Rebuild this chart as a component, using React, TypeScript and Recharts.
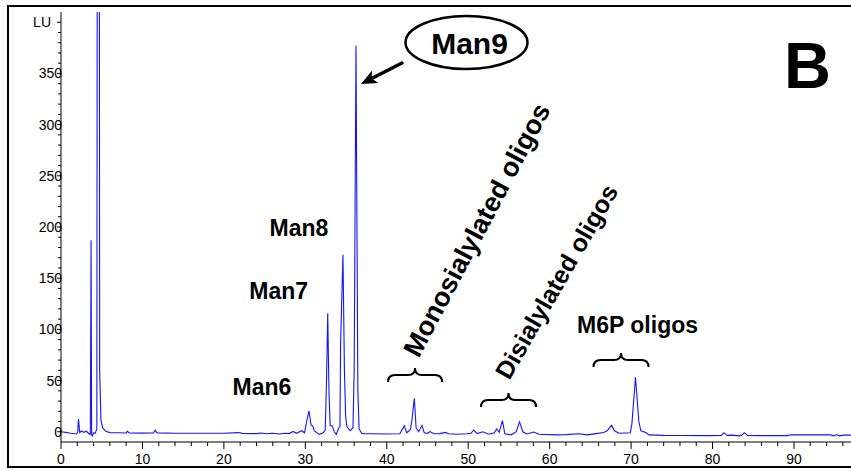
import React from 'react';
import { LineChart, Line, XAxis, YAxis, ReferenceDot } from 'recharts';

// Retention time (min) vs fluorescence (LU)
const solventFront: [number, number][] = [
  [0, 0], [0.6, -0.6], [1.2, -1.4], [1.9, -2.2], [2.05, 0], [2.15, 12.5], [2.3, -1], [2.5, 0.8],
  [2.8, -0.5], [3.1, 0.5], [3.35, -1.2], [3.55, -2.6], [3.6, -2], [3.69, 187], [3.76, -3],
  [3.85, -4], [4.0, -1], [4.2, -1.6], [4.4, 3], [4.58, 1800], [4.75, 60], [4.9, 12], [5.1, 4],
  [5.5, 0.5], [6.0, -0.8], [7.0, -1], [8.0, -1.2], [8.15, 0.6], [8.35, -1.1], [10, -1.3],
  [11.35, -1.2], [11.55, 1.4], [11.8, -1.1], [14, -1.4], [17, -1.5], [20, -1.5],
];

const lateBaseline: [number, number][] = [
  [21.8, -0.8], [22.3, -1.6], [24, -1.8], [24.6, -1.2], [25.2, -2], [26, -1.5], [26.8, -2.2],
  [27.5, -1.4], [28.0, -1.8], [28.5, 0.3], [28.9, -1.5], [29.55, 1], [29.9, -1],
];

const highMannose: [number, number][] = [
  [30.2, 11.5], [30.45, 20.3], [30.7, 6.6], [30.9, 5.7], [31.1, 1], [31.7, -2.5], [32.2, -1],
  [32.45, 2], [32.6, 50], [32.75, 115.7], [32.9, 40], [33.05, 6], [33.3, 5.7], [33.55, 0],
  [33.8, -2.5], [34.1, 3.7], [34.25, 5], [34.33, 86], [34.62, 173], [34.8, 60], [34.95, 15],
  [35.1, 5], [35.5, 1], [35.85, 4], [36.0, 60], [36.22, 377], [36.45, 40], [36.6, 3], [36.9, -1.5],
  [37.2, -2],
];

const sialylated: [number, number][] = [
  [38, -2], [40, -2.2], [41.6, -2], [42.15, 5.7], [42.45, -1], [42.9, 2], [43.1, 12], [43.38, 32.7],
  [43.6, 4], [43.9, 0], [44.33, 6.3], [44.6, -1], [45.0, -1.5], [45.3, 0.2], [45.8, -2], [46.5, -1.8],
  [47.2, -0.6], [47.6, -2], [48.6, -2.5], [49.8, -2], [50.35, -1.5], [50.67, 1.7], [51.1, -1.8],
  [51.8, 0], [52.5, -2.4], [53.2, -1], [53.5, 2.7], [53.8, -0.5], [54.2, 10.9], [54.5, -2],
  [55.3, -3], [55.9, 0], [56.3, 9.6], [56.7, 0], [57.2, -2.2], [58.05, -0.2], [58.7, -2.5], [60.9, -3],
];

const m6pRegion: [number, number][] = [
  [62, -2.8], [63.6, -2], [64.6, -3], [65.7, -1.8], [66.65, -0.8], [67.05, 1], [67.6, 6.3],
  [67.96, 1], [68.5, -1.5], [69.9, -1], [70.1, 8], [70.54, 53.2], [70.95, 10], [71.2, 1],
  [71.8, -0.8], [72.2, -3],
];

const tailRegion: [number, number][] = [
  [74, -3.5], [76, -3.6], [79.35, -3.8], [81.1, -3.6], [81.4, -0.9], [81.8, -3.5], [82.4, -3.3],
  [83.2, -4], [83.6, -3.3], [83.9, -0.9], [84.3, -3.5], [86, -3.8], [89.2, -3.8], [89.6, -2.9],
  [92, -3], [94.5, -3], [94.8, -4], [95.2, -3], [95.6, -4], [96.1, -3.3], [97, -3.3],
];

const xTicks = [0, 2, 4, 6, 8, 10, 12, 14, 16, 18, 20, 22, 24, 26, 28, 30, 32, 34, 36, 38, 40, 42, 44, 46, 48,
  50, 52, 54, 56, 58, 60, 62, 64, 66, 68, 70, 72, 74, 76, 78, 80, 82, 84, 86, 88, 90, 92, 94, 96];
const yTicks = [0, 10, 20, 30, 40, 50, 60, 70, 80, 90, 100, 110, 120, 130, 140, 150, 160, 170, 180, 190, 200,
  210, 220, 230, 240, 250, 260, 270, 280, 290, 300, 310, 320, 330, 340, 350, 360, 370, 380, 390, 400];

const trace = [...solventFront, ...lateBaseline, ...highMannose, ...sialylated, ...m6pRegion, ...tailRegion]
  .map(([t, v]) => ({ t, v }));

const FONT = '"Liberation Sans", Arial, Helvetica, sans-serif';

const XTick = (props: any) => {
  const { x, y, payload } = props;
  const major = payload.value % 10 === 0;
  return (
    <g>
      <line x1={x} x2={x} y1={y} y2={y + (major ? 7 : 4)} stroke="#000" strokeWidth={1} />
      {major && (
        <text x={x} y={y + 22} textAnchor="middle" fontSize={14} fontFamily={FONT} fill="#000">
          {payload.value}
        </text>
      )}
    </g>
  );
};

const YTick = (props: any) => {
  const { x, y, payload } = props;
  const v = payload.value;
  const major = v % 50 === 0;
  return (
    <g>
      <line x1={x - (major ? 4 : 3)} x2={x} y1={y} y2={y} stroke="#000" strokeWidth={1} />
      {major && v === 400 && (
        <text x={x - 10} y={y} dy="0.36em" textAnchor="end" fontSize={14} fontFamily={FONT} fill="#000">LU</text>
      )}
      {major && v !== 400 && (
        <text x={x + 1} y={y} dy="0.36em" textAnchor="end" fontSize={14} fontFamily={FONT} fill="#000">{v}</text>
      )}
    </g>
  );
};

const bracePath = (w: number) => {
  const h = w / 2;
  return `M ${-h} 7 Q ${-h} 0 ${-h + 7} 0 L -7 0 Q 0 0 0 -7 Q 0 0 7 0 L ${h - 7} 0 Q ${h} 0 ${h} 7`;
};

const Brace = (w: number) => (p: any) => (
  <path transform={`translate(${p.cx},${p.cy})`} d={bracePath(w)} fill="none" stroke="#000" strokeWidth={2} />
);

const BoldLabel = (text: string, size: number, anchor: string, rotate = 0) => (p: any) => (
  <text
    x={p.cx}
    y={p.cy}
    textAnchor={anchor as any}
    fontSize={size}
    fontWeight="bold"
    fontFamily={FONT}
    fill="#000"
    transform={rotate ? `rotate(${rotate},${p.cx},${p.cy})` : undefined}
  >
    {text}
  </text>
);

const Man9Callout = (p: any) => {
  const { cx, cy } = p;
  const tailX = cx - 64.5, tailY = cy + 20.5;
  const tipX = cx - 105.5, tipY = cy + 41.5;
  const dx = tipX - tailX, dy = tipY - tailY;
  const len = Math.sqrt(dx * dx + dy * dy);
  const ux = dx / len, uy = dy / len;
  const px = -uy, py = ux;
  const bx = tipX - ux * 16, by = tipY - uy * 16;
  const nx = tipX - ux * 12, ny = tipY - uy * 12;
  return (
    <g>
      <ellipse cx={cx} cy={cy} rx={61} ry={26.5} fill="#fff" stroke="#000" strokeWidth={2.5} />
      <text x={cx + 3} y={cy + 11.5} textAnchor="middle" fontSize={30} fontWeight="bold" fontFamily={FONT} fill="#000">
        Man9
      </text>
      <line x1={tailX} y1={tailY} x2={nx} y2={ny} stroke="#000" strokeWidth={3.5} strokeLinecap="round" />
      <polygon
        points={`${tipX},${tipY} ${bx + px * 7},${by + py * 7} ${nx},${ny} ${bx - px * 7},${by - py * 7}`}
        fill="#000"
      />
    </g>
  );
};

export default function App() {
  return (
    <div style={{ position: 'absolute', left: 0, top: 0, width: 851, height: 471, background: '#fff', overflow: 'hidden' }}>
      <div
        style={{
          position: 'absolute', left: 7, top: 5, width: 880, height: 463, boxSizing: 'border-box',
          borderLeft: '2px solid #000', borderTop: '2px solid #000', borderBottom: '2px solid #000',
        }}
      />
      <div style={{ position: 'absolute', left: 0, top: 0 }}>
        <LineChart width={851} height={471} data={trace} margin={{ top: 12, right: 0, bottom: 0, left: 0 }}>
          <XAxis
            dataKey="t"
            type="number"
            domain={[0, 97]}
            allowDataOverflow
            ticks={xTicks}
            interval={0}
            tickSize={0}
            tickMargin={0}
            tickLine={false}
            tick={<XTick />}
            height={29}
            axisLine={{ stroke: '#000' }}
          />
          <YAxis
            type="number"
            domain={[-10, 410]}
            allowDataOverflow
            ticks={yTicks}
            interval={0}
            tickSize={0}
            tickMargin={0}
            tickLine={false}
            tick={<YTick />}
            width={61}
            axisLine={{ stroke: '#000' }}
          />
          <Line
            dataKey="v"
            type="linear"
            stroke="#1414ff"
            strokeWidth={1.1}
            dot={false}
            activeDot={false}
            isAnimationActive={false}
          />
          <ReferenceDot x={29.22} y={191.2} r={1} shape={BoldLabel('Man8', 23, 'middle')} />
          <ReferenceDot x={26.73} y={129.4} r={1} shape={BoldLabel('Man7', 23, 'middle')} />
          <ReferenceDot x={24.68} y={35.9} r={1} shape={BoldLabel('Man6', 23, 'middle')} />
          <ReferenceDot x={49.79} y={380.2} r={1} shape={Man9Callout} />
          <ReferenceDot x={88.78} y={335.5} r={1} shape={BoldLabel('B', 65, 'start')} />
          <ReferenceDot x={52.05} y={193} r={1} shape={BoldLabel('Monosialylated oligos', 27, 'middle', -62)} />
          <ReferenceDot x={61.77} y={142.4} r={1} shape={BoldLabel('Disialylated oligos', 25, 'middle', -60)} />
          <ReferenceDot x={70.79} y={96.2} r={1} shape={BoldLabel('M6P oligos', 23, 'middle')} />
          <ReferenceDot x={43.47} y={55.4} r={1} shape={Brace(54)} />
          <ReferenceDot x={54.95} y={31.0} r={1} shape={Brace(55)} />
          <ReferenceDot x={68.76} y={70.1} r={1} shape={Brace(55)} />
        </LineChart>
      </div>
    </div>
  );
}
